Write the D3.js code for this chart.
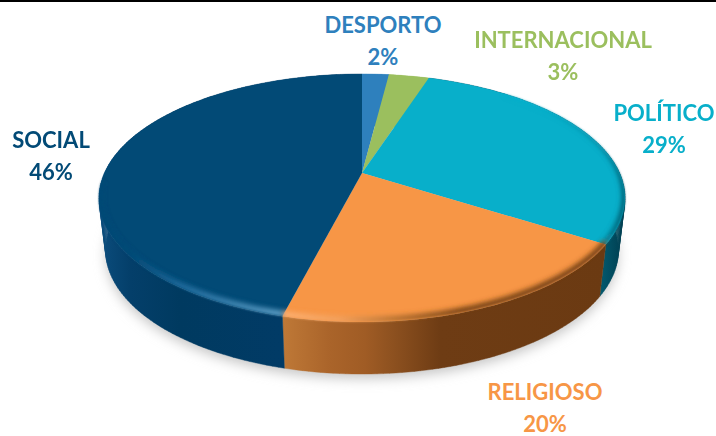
<!DOCTYPE html>
<html>
<head>
<meta charset="utf-8">
<script src="https://cdnjs.cloudflare.com/ajax/libs/d3/7.8.5/d3.min.js"></script>
<style>
html,body{margin:0;padding:0;background:#fff;overflow:hidden}
text{font-family:Lato,"Open Sans",sans-serif;font-weight:700;text-anchor:middle}
</style>
</head>
<body>
<svg id="chart" width="716" height="436"></svg>
<script>
const categories = ["DESPORTO", "INTERNACIONAL", "POLÍTICO", "RELIGIOSO", "SOCIAL"];
const values = [2, 3, 29, 20, 46];
const colors = ["#2e80bd", "#9bbf5e", "#08afca", "#f79646", "#024a76"];
const labelX = [383, 563, 664, 545, 51];
const labelY = [33, 48, 121, 400, 148];

const W = 716, H = 436;
const apexX = 362, apexY = 173, depth = 52, lineGap = 31.5, baseNarrow = 0.975;
const radius = 257.6, perspective = -0.2016, yScale = 119;
const rad = d => d * Math.PI / 180;

const svg = d3.select("#chart").attr("viewBox", [0, 0, W, H]);
const defs = svg.append("defs");

// Circle on the table -> tilted view in perspective; the base sits lower and reads narrower
function project(a) {
  const u = Math.sin(a), v = -Math.cos(a), k = 1 + perspective * v;
  return [apexX + radius * u / k, apexY + yScale * v / k];
}
function arcPoints(a0, a1, dy) {
  const n = Math.max(2, Math.ceil((a1 - a0) / 0.02));
  const sx = dy >= depth ? baseNarrow : 1;
  return d3.range(n + 1).map(i => {
    const p = project(a0 + (a1 - a0) * i / n);
    return [apexX + (p[0] - apexX) * sx, p[1] + dy];
  });
}
const line = d3.line();
const pie = d3.pie().sort(null).value(d => d)(values);

// Wall of one slice as a run of small quads, so the silhouette stays a clean ruled surface
function wallPath(d) {
  const top = arcPoints(d.startAngle, d.endAngle, 0);
  const base = arcPoints(d.startAngle, d.endAngle, depth);
  return d3.range(top.length - 1).map(i => line([top[i], top[i + 1], base[i + 1], base[i]]) + "Z").join("");
}

function gradient(id, stops) {
  const g = defs.append("linearGradient").attr("id", id)
    .attr("gradientUnits", "userSpaceOnUse")
    .attr("x1", 99).attr("x2", 625).attr("y1", 0).attr("y2", 0);
  stops.forEach(([x, c]) => g.append("stop").attr("offset", (x - 99) / 526).attr("stop-color", c));
}
gradient("side2", [[590, "#05667c"], [625, "#003c4e"]]);
gradient("side3", [[279, "#c07a38"], [330, "#aa642a"], [365, "#a05c25"], [390, "#8f5220"], [440, "#6e3c14"], [605, "#6b3a12"]]);
gradient("side4", [[99, "#0b4d7d"], [130, "#043f6a"], [180, "#003a60"], [280, "#013b66"]]);
gradient("rim2", [[540, "#08afca"], [600, "#0a8ba3"], [625, "#035e72"]]);
gradient("rim3", [[279, "#fdb072"], [340, "#f2a05c"], [400, "#b5702f"], [460, "#7d4718"], [605, "#7a4416"]]);
gradient("rim4", [[130, "#024a76"], [180, "#1d699b"], [280, "#5b9bc2"]]);

const blur = (id, s) => defs.append("filter").attr("id", id)
  .attr("x", "-20%").attr("y", "-20%").attr("width", "140%").attr("height", "140%")
  .append("feGaussianBlur").attr("stdDeviation", s);
blur("soft", 2.2);
blur("edge", 0.8);
blur("shadow", 6);

// Silhouette for clipping the soft rim
const topOutline = arcPoints(0, 2 * Math.PI, 0);
defs.append("clipPath").attr("id", "faceClip").append("path").attr("d", line(topOutline) + "Z");

// Ground shadow
svg.append("path").attr("d", line(arcPoints(0, 2 * Math.PI, depth + 5)) + "Z")
  .attr("fill", "#c9c9c9").attr("filter", "url(#shadow)");

// Top rule of the page
svg.append("rect").attr("x", 0).attr("y", 0).attr("width", W).attr("height", 2).attr("fill", "#000");

// Side walls
svg.selectAll("path.side").data(pie).enter().append("path").attr("class", "side")
  .attr("d", wallPath)
  .attr("fill", (d, i) => i >= 2 ? `url(#side${i})` : colors[i])
  .attr("stroke", (d, i) => i >= 2 ? `url(#side${i})` : colors[i])
  .attr("stroke-width", 0.4);

// Top face slices
svg.selectAll("path.slice").data(pie).enter().append("path").attr("class", "slice")
  .attr("d", d => line([[apexX, apexY]].concat(arcPoints(d.startAngle, d.endAngle, 0))) + "Z")
  .attr("fill", (d, i) => colors[i]);

// Soft bevel along the front of the top face rim
const rimSpans = [[rad(40), pie[2].endAngle, "rim2"], [pie[3].startAngle, pie[3].endAngle, "rim3"], [pie[4].startAngle, rad(265), "rim4"]];
svg.append("g").attr("filter", "url(#edge)").append("g").attr("clip-path", "url(#faceClip)")
  .selectAll("path.rim").data(rimSpans).enter().append("path").attr("class", "rim")
  .attr("d", d => line(arcPoints(d[0], d[1], -2)))
  .attr("fill", "none").attr("stroke-width", 7)
  .attr("stroke", d => `url(#${d[2]})`)
  .attr("filter", "url(#soft)");

// Labels
const labels = svg.selectAll("g.label").data(categories).enter().append("g").attr("class", "label")
  .attr("fill", (d, i) => colors[i])
  .attr("transform", (d, i) => `translate(${labelX[i]},${labelY[i]})`);
labels.append("text").attr("font-size", 22).text(d => d);
labels.append("text").attr("y", lineGap).attr("font-size", 22).text((d, i) => values[i] + "%");
</script>
</body>
</html>
